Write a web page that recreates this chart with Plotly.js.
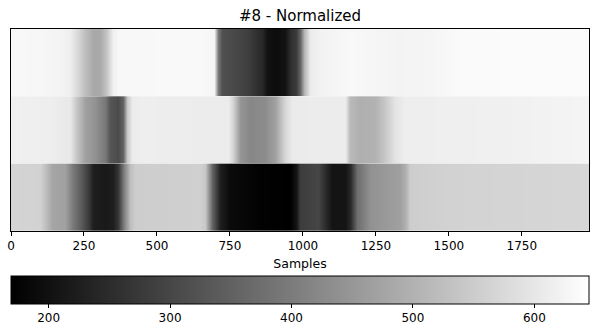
<!DOCTYPE html>
<html>
<head>
<meta charset="utf-8">
<script src="https://cdn.plot.ly/plotly-3.0.1.min.js"></script>
<style>html,body{margin:0;padding:0;background:#fff;}#chart{width:590px;height:331px;}</style>
</head>
<body>
<div id="chart"></div>
<script>
// Row 1 (top)
var samplesTop = [0, 99, 168, 202, 229, 253, 281, 305, 325, 349, 373, 647, 695, 709, 723, 767, 812, 836, 860, 877, 904, 938, 955, 976, 990, 1003, 1024, 1058, 1161, 1332, 1435, 1538, 1980];
var valuesTop  = [632, 630, 623, 613, 570, 524, 483, 486, 533, 617, 632, 634, 626, 393, 318, 303, 285, 262, 244, 203, 191, 203, 253, 281, 356, 505, 608, 621, 632, 623, 626, 636, 638];
// Row 2 (middle)
var samplesMid = [0, 134, 202, 219, 253, 288, 322, 339, 366, 384, 397, 414, 442, 647, 743, 760, 784, 818, 870, 904, 938, 962, 1144, 1161, 1195, 1247, 1281, 1315, 1349, 1675, 1980];
var valuesMid  = [617, 613, 602, 552, 468, 440, 393, 328, 309, 356, 542, 608, 613, 610, 610, 561, 449, 421, 430, 468, 570, 608, 610, 514, 496, 501, 542, 595, 613, 617, 625];
// Row 3 (bottom)
var samplesBot = [0, 99, 123, 140, 185, 212, 236, 264, 281, 322, 349, 366, 387, 408, 425, 647, 664, 688, 716, 750, 853, 955, 976, 990, 1051, 1079, 1099, 1144, 1161, 1185, 1229, 1332, 1349, 1366, 1503, 1980];
var valuesBot  = [565, 561, 514, 477, 468, 393, 346, 281, 225, 216, 225, 272, 412, 524, 552, 557, 542, 356, 225, 188, 173, 169, 206, 281, 300, 244, 206, 206, 244, 374, 440, 468, 496, 552, 561, 570];

var xTicks = [0, 250, 500, 750, 1000, 1250, 1500, 1750];
var cbTicks = [200, 300, 400, 500, 600];
var zMin = 169, zMax = 645, xMax = 1980;

function rowTrace(xs, vals, yc) {
  return {
    type: 'heatmap',
    x: xs,
    y: [yc - 0.25, yc + 0.25],
    z: [vals, vals],
    zsmooth: 'best',
    coloraxis: 'coloraxis',
    hoverinfo: 'skip'
  };
}

var data = [
  rowTrace(samplesTop, valuesTop, 2.5),
  rowTrace(samplesMid, valuesMid, 1.5),
  rowTrace(samplesBot, valuesBot, 0.5)
];

var layout = {
  width: 590, height: 331,
  margin: {l: 11, r: 1, t: 29, b: 100},
  paper_bgcolor: '#fff', plot_bgcolor: '#fff',
  font: {family: 'DejaVu Sans', size: 12, color: '#000'},
  title: {text: '#8 - Normalized', x: 0.5, xanchor: 'center', xref: 'paper', yref: 'container', y: 0.952, yanchor: 'middle', font: {size: 15, color: '#000'}},
  xaxis: {
    range: [0, xMax], tickvals: xTicks, ticktext: xTicks.map(String),
    ticks: 'outside', ticklen: 4, tickcolor: '#000', tickwidth: 1,
    showline: true, linecolor: '#000', linewidth: 1, mirror: true,
    showgrid: false, zeroline: false,
    tickfont: {size: 12},
    title: {text: 'Samples', standoff: 6, font: {size: 12.5}}
  },
  yaxis: {
    range: [0, 3], showticklabels: false, ticks: '',
    showline: true, linecolor: '#000', linewidth: 1, mirror: true,
    showgrid: false, zeroline: false
  },
  coloraxis: {
    cmin: zMin, cmax: zMax,
    colorscale: [[0, '#000000'], [1, '#ffffff']],
    colorbar: {
      orientation: 'h', x: 0.5, xanchor: 'center', xref: 'paper',
      y: -0.223, yanchor: 'top', yref: 'paper',
      len: 1, lenmode: 'fraction', thickness: 28,
      xpad: 0, ypad: 0,
      outlinecolor: '#000', outlinewidth: 1,
      ticks: 'outside', ticklen: 4, tickcolor: '#000',
      tickvals: cbTicks, ticktext: cbTicks.map(String),
      tickfont: {size: 12}
    }
  }
};

Plotly.newPlot('chart', data, layout, {displayModeBar: false, staticPlot: true});
</script>
</body>
</html>
